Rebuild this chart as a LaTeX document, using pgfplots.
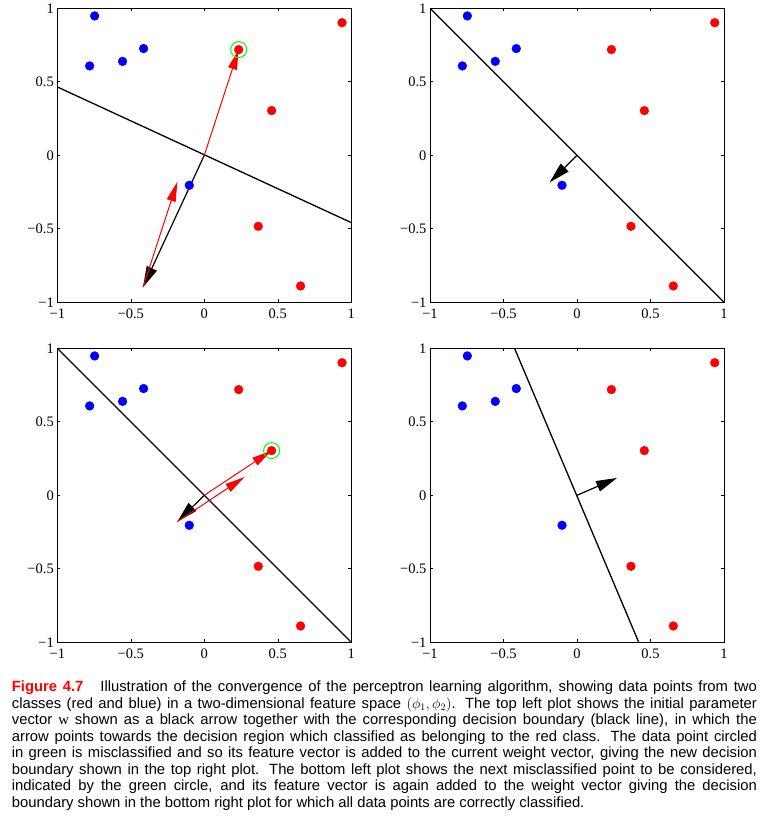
\documentclass[border=0pt]{standalone}
\usepackage{pgfplots}
\pgfplotsset{compat=1.18}
\usepackage{pgfplotstable}
\usetikzlibrary{arrows.meta}
\usepackage{fontspec}
\setmainfont{Liberation Serif}
\newfontfamily\capfont{Liberation Sans}

\pgfplotstableread{
x y
-0.746 0.948
-0.780 0.608
-0.556 0.639
-0.413 0.726
-0.102 -0.204
}\bluepts
\pgfplotstableread{
x y
0.937 0.902
0.234 0.719
0.458 0.304
0.367 -0.483
0.655 -0.889
}\redpts

\pgfplotsset{
  pp/.style={
    width=294bp, height=294bp, scale only axis,
    xmin=-1,xmax=1,ymin=-1,ymax=1,
    xtick={-1,-0.5,0,0.5,1}, ytick={-1,-0.5,0,0.5,1},
    xticklabels={−1,−0.5,0,0.5,1}, yticklabels={−1,−0.5,0,0.5,1},
    tick align=inside, major tick length=3bp,
    tick style={black,line width=0.6bp},
    axis line style={line width=0.9bp},
    ticklabel style={font=\fontsize{14.5bp}{16bp}\selectfont},
    xticklabel style={yshift=-3bp},
    anchor=north west,
  },
  blu/.style={only marks, mark=*, mark size=4.4bp, color=blue},
  rd/.style={only marks, mark=*, mark size=4.4bp, color=red},
  bnd/.style={black, line width=1.3bp},
  warr/.style={black, line width=1.2bp, -{Triangle[length=21bp,width=11bp]}},
  rarr/.style={red, line width=1bp, -{Triangle[length=20bp,width=9bp]}},
  gc/.style={only marks, mark=o, mark size=8bp, color=green, line width=1bp},
}

\begin{document}
\begin{tikzpicture}
\useasboundingbox (0,0) rectangle (761bp,816bp);

% top left
\begin{axis}[pp, at={(57.3bp,807.7bp)}]
\addplot[bnd] coordinates {(-1,0.465) (1,-0.458)};
\addplot[warr] coordinates {(0,0) (-0.417,-0.898)};
\addplot[blu] table {\bluepts};
\addplot[rd] table {\redpts};
\addplot[rarr] coordinates {(0,0) (0.234,0.719)};
\addplot[rarr] coordinates {(-0.417,-0.898) (-0.183,-0.179)};
\addplot[gc] coordinates {(0.234,0.719)};
\end{axis}

% top right
\begin{axis}[pp, at={(430bp,807.7bp)}]
\addplot[bnd] coordinates {(-1,1) (1,-1)};
\addplot[warr] coordinates {(0,0) (-0.186,-0.184)};
\addplot[blu] table {\bluepts};
\addplot[rd] table {\redpts};
\end{axis}

% bottom left
\begin{axis}[pp, at={(57.3bp,467.7bp)}]
\addplot[bnd] coordinates {(-1,1) (1,-1)};
\addplot[warr] coordinates {(0,0) (-0.183,-0.179)};
\addplot[blu] table {\bluepts};
\addplot[rd] table {\redpts};
\addplot[rarr] coordinates {(0,0) (0.458,0.304)};
\addplot[rarr] coordinates {(-0.183,-0.179) (0.275,0.125)};
\addplot[gc] coordinates {(0.458,0.304)};
\end{axis}

% bottom right
\begin{axis}[pp, at={(430bp,467.7bp)}]
\addplot[bnd] coordinates {(-0.425,1) (0.42,-1)};
\addplot[warr] coordinates {(0,0) (0.272,0.118)};
\addplot[blu] table {\bluepts};
\addplot[rd] table {\redpts};
\end{axis}

\node[anchor=base west, inner sep=0pt] at (11.7bp,124bp) {\capfont\fontsize{14.8bp}{16.5bp}\selectfont
\vtop{\hsize=745bp\baselineskip=16.5bp
\hbox to\hsize{{\bfseries\color{red}Figure 4.7}\hskip 17bp Illustration of the convergence of the perceptron learning algorithm, showing data points from two}
\hbox to\hsize{classes (red and blue) in a two-dimensional feature space $(\phi_1,\phi_2)$. The top left plot shows the initial parameter}
\hbox to\hsize{vector $\mathrm{w}$ shown as a black arrow together with the corresponding decision boundary (black line), in which the}
\hbox to\hsize{arrow points towards the decision region which classified as belonging to the red class. The data point circled}
\hbox to\hsize{in green is misclassified and so its feature vector is added to the current weight vector, giving the new decision}
\hbox to\hsize{boundary shown in the top right plot. The bottom left plot shows the next misclassified point to be considered,}
\hbox to\hsize{indicated by the green circle, and its feature vector is again added to the weight vector giving the decision}
\hbox{boundary shown in the bottom right plot for which all data points are correctly classified.}
}};
\end{tikzpicture}
\end{document}
